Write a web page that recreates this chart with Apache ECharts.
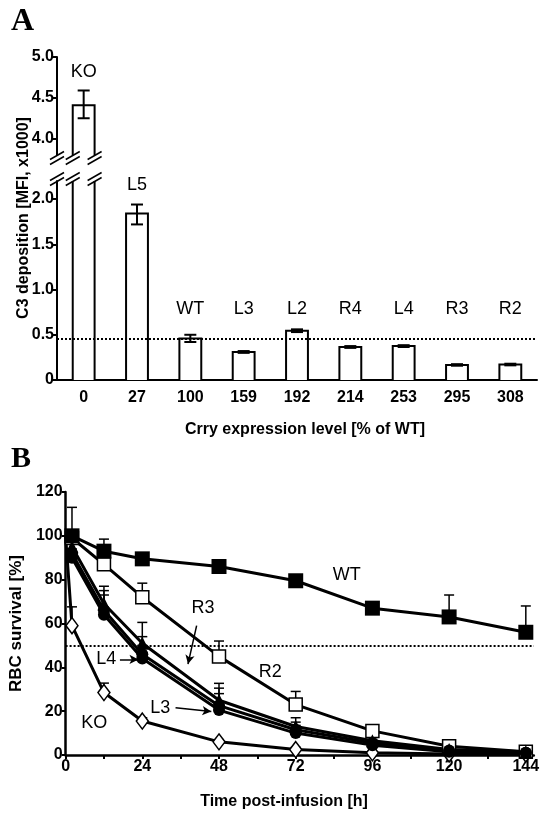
<!DOCTYPE html>
<html><head><meta charset="utf-8">
<script src="https://cdn.jsdelivr.net/npm/echarts@6/dist/echarts.min.js"></script>
<style>html,body{margin:0;padding:0;background:#fff}#c{width:542px;height:815px}</style>
</head><body><div id="c"></div>
<script>
// ---------- Panel A data ----------
const exprLevels = ['0','27','100','159','192','214','253','295','308'];
const lineNames  = ['KO','L5','WT','L3','L2','R4','L4','R3','R2'];
const c3Mean = [4.41, 1.84, 0.46, 0.31, 0.545, 0.365, 0.375, 0.165, 0.17];
const c3Low  = [4.25, 1.72, 0.42, 0.30, 0.53, 0.355, 0.365, 0.158, 0.162];
const c3High = [4.59, 1.94, 0.50, 0.32, 0.56, 0.375, 0.385, 0.175, 0.18];
const nameLabelY = [4.82, 2.16, 0.79, 0.79, 0.79, 0.79, 0.79, 0.79, 0.79];
const wtC3Level = 0.46;
const upperRange = [3.8, 5.0];
const lowerRange = [0, 2.2];
const upperTicks = [4.0, 4.5, 5.0];
const lowerTicks = [0, 0.5, 1.0, 1.5, 2.0];

// ---------- Panel B data ----------
const hours   = [2, 12, 24, 48, 72, 96, 120, 144];
const koHours = [0, 2, 12, 24, 48, 72, 96, 120, 144];
const survWT    = [100, 93, 89.5, 86, 79.5, 67, 63, 56];
const survWTErr = [113, 98.5, 91, 88, 82, 69, 73, 68];
const survR2    = [99, 87, 72, 45, 23, 11, 4, 1.5];
const survR2Err = [101, 89, 78.4, 52, 29, 13.5, 5, 2];
const survR3    = [95, 69, 51, 25, 13, 6.5, 2.5, 1.5];
const survR3Err = [97, 77, 60.5, 32.7, 17, 8, 3.5, 2];
const survL4    = [92, 66, 46, 22.5, 11.5, 5.5, 2, 1];
const survL4Err = [94, 75, 54, 30.5, 15, 7, 3, 2];
const survL3    = [90, 64, 44, 20.5, 10, 4.5, 1.5, 1];
const survL3Err = [92, 73, 50, 28, 13.5, 6, 2.5, 1.5];
const survKO    = [100, 59, 28.5, 15.5, 6, 2.5, 1, 0.5, 0.5];
const survKOErr = [100, 67.6, 32.8, 17, 7, 3.5, 1.5, 1, 1];
const halfSurvival = 50;
const timeTicks  = [0, 12, 24, 36, 48, 60, 72, 84, 96, 108, 120, 132, 144];
const timeLabels = [0, 24, 48, 72, 96, 120, 144];
const annNames = ['WT', 'R3', 'R2', 'L4', 'L3', 'KO'];
const annT     = [88, 43, 64, 12.7, 29.6, 9];
const annV     = [82, 67, 38, 43.6, 21.4, 14.6];
const arrowFrom = [[17, 43.6], [34.4, 21.6], [41, 59]];
const arrowTo   = [[22.8, 43.6], [45.6, 19.8], [38.3, 41.5]];

// ---------- helpers ----------
const SANS = '"Liberation Sans", Arial, sans-serif';
const BLACK = '#000';

function slashes(x, y) {
  const out = [];
  [-2.5, 2.5].forEach(function (d) {
    out.push({ type: 'line', shape: { x1: x - 7, y1: y + 4 + d, x2: x + 7, y2: y - 4 + d },
      style: { stroke: BLACK, lineWidth: 1.5 } });
  });
  return out;
}

function makeBarRenderer(range, cutBottom) {
  return function (params, api) {
    const cs = params.coordSys;
    const i = api.value(0), v = api.value(1);
    const w = api.size([1, 0])[0] * 0.41;
    const topPt = api.coord([i, Math.min(v, range[1])]);
    const basePt = api.coord([i, range[0]]);
    const l = topPt[0] - w / 2, r = topPt[0] + w / 2;
    const yt = topPt[1], yb = basePt[1];
    const cutTop = v > range[1];
    const kids = [{ type: 'rect', shape: { x: l, y: yt, width: w, height: yb - yt }, style: { fill: '#fff' } }];
    if (cutTop) {
      kids.push({ type: 'line', shape: { x1: l, y1: yt, x2: l, y2: yb }, style: { stroke: BLACK, lineWidth: 2 } });
      kids.push({ type: 'line', shape: { x1: r, y1: yt, x2: r, y2: yb }, style: { stroke: BLACK, lineWidth: 2 } });
      [l, r, cs.x].forEach(function (x) { slashes(x, yt - 2).forEach(function (s) { kids.push(s); }); });
    } else {
      kids.push({ type: 'polyline', shape: { points: [[l, yb], [l, yt], [r, yt], [r, yb]] },
        style: { stroke: BLACK, lineWidth: 2, fill: null } });
    }
    if (cutBottom) {
      [l, r, cs.x].forEach(function (x) { slashes(x, yb + 3).forEach(function (s) { kids.push(s); }); });
    }
    return { type: 'group', children: kids };
  };
}

function errRendererA(params, api) {
  const i = api.value(0);
  const lo = api.coord([i, api.value(1)]);
  const hi = api.coord([i, api.value(2)]);
  const hw = 6;
  return { type: 'group', children: [
    { type: 'line', shape: { x1: lo[0], y1: lo[1], x2: hi[0], y2: hi[1] }, style: { stroke: BLACK, lineWidth: 2 } },
    { type: 'line', shape: { x1: lo[0] - hw, y1: lo[1], x2: lo[0] + hw, y2: lo[1] }, style: { stroke: BLACK, lineWidth: 2 } },
    { type: 'line', shape: { x1: hi[0] - hw, y1: hi[1], x2: hi[0] + hw, y2: hi[1] }, style: { stroke: BLACK, lineWidth: 2 } }
  ] };
}

function errRendererB(params, api) {
  const t = api.value(0);
  const p0 = api.coord([t, api.value(1)]);
  const p1 = api.coord([t, api.value(2)]);
  return { type: 'group', children: [
    { type: 'line', shape: { x1: p0[0], y1: p0[1], x2: p1[0], y2: p1[1] }, style: { stroke: BLACK, lineWidth: 1.5 } },
    { type: 'line', shape: { x1: p1[0] - 5, y1: p1[1], x2: p1[0] + 5, y2: p1[1] }, style: { stroke: BLACK, lineWidth: 1.5 } }
  ] };
}

const barRows = c3Mean.map(function (v, i) { return [i, v]; });
const errRows = c3Mean.map(function (v, i) { return [i, c3Low[i], c3High[i]]; });

function errRowsB(tArr, vArr, eArr) {
  return tArr.map(function (t, i) { return [t, vArr[i], eArr[i]]; });
}
const allErrB = []
  .concat(errRowsB(hours, survWT, survWTErr))
  .concat(errRowsB(hours, survR2, survR2Err))
  .concat(errRowsB(hours, survR3, survR3Err))
  .concat(errRowsB(hours, survL4, survL4Err))
  .concat(errRowsB(hours, survL3, survL3Err))
  .concat(errRowsB(koHours, survKO, survKOErr).slice(1));

function pairs(tArr, vArr) { return tArr.map(function (t, i) { return [t, vArr[i]]; }); }

const axisLineStyle = { show: true, lineStyle: { color: BLACK, width: 2 } };
const tickLabelStyle = { color: BLACK, fontFamily: SANS, fontWeight: 'bold', fontSize: 16 };
const fmt1 = function (v) { return v === 0 ? '0' : Number(v).toFixed(1); };
const textLabel = { show: true, position: 'inside', formatter: '{b}', color: BLACK, opacity: 1,
  fontFamily: SANS, fontSize: 18, textBorderWidth: 0 };

function lineSeries(name, data, symbol, size, filled) {
  return {
    type: 'line', name: name, xAxisIndex: 2, yAxisIndex: 2, data: data,
    symbol: symbol, symbolSize: size, showSymbol: true, z: 3,
    lineStyle: { color: BLACK, width: 3 },
    itemStyle: filled ? { color: BLACK, borderColor: BLACK, borderWidth: 0, opacity: 1 }
                      : { color: '#fff', borderColor: BLACK, borderWidth: 1.5, opacity: 1 },
    emphasis: { disabled: true }, animation: false
  };
}

const koData = pairs(koHours, survKO).map(function (p, i) {
  return i === 0 ? { value: p, symbol: 'none' } : p;
});

const option = {
  animation: false,
  backgroundColor: '#fff',
  grid: [
    { left: 57, top: 57, width: 480, height: 98 },
    { left: 57, top: 181, width: 480, height: 199 },
    { left: 56, top: 492, width: 486, height: 263 }
  ],
  xAxis: [
    { gridIndex: 0, type: 'category', data: exprLevels, show: false },
    { gridIndex: 1, type: 'category', data: exprLevels, axisLine: axisLineStyle,
      axisTick: { show: false }, axisLabel: Object.assign({ margin: 10, interval: 0 }, tickLabelStyle) },
    { gridIndex: 2, type: 'value', min: 0, max: 146.5, splitLine: { show: false },
      axisLine: { show: true, onZero: false, lineStyle: { color: BLACK, width: 2.5 } },
      axisTick: { show: true, customValues: timeTicks, length: 4, lineStyle: { color: BLACK, width: 2 } },
      axisLabel: Object.assign({ customValues: timeLabels, margin: 4 }, tickLabelStyle) }
  ],
  yAxis: [
    { gridIndex: 0, type: 'value', min: upperRange[0], max: upperRange[1], splitLine: { show: false },
      axisLine: axisLineStyle,
      axisTick: { show: true, customValues: upperTicks, length: 4, lineStyle: { color: BLACK, width: 2 } },
      axisLabel: Object.assign({ customValues: upperTicks, formatter: fmt1, margin: 3 }, tickLabelStyle) },
    { gridIndex: 1, type: 'value', min: lowerRange[0], max: lowerRange[1], splitLine: { show: false },
      axisLine: axisLineStyle,
      axisTick: { show: true, customValues: lowerTicks, length: 4, lineStyle: { color: BLACK, width: 2 } },
      axisLabel: Object.assign({ customValues: lowerTicks, formatter: fmt1, margin: 3 }, tickLabelStyle) },
    { gridIndex: 2, type: 'value', min: 0, max: 120, interval: 20, splitLine: { show: false },
      axisLine: { show: true, lineStyle: { color: BLACK, width: 2.5 } },
      axisTick: { show: true, length: 4, lineStyle: { color: BLACK, width: 2 } },
      axisLabel: Object.assign({ margin: 3 }, tickLabelStyle),
      name: 'RBC survival [%]', nameLocation: 'middle', nameGap: 33,
      nameTextStyle: { color: BLACK, fontFamily: SANS, fontWeight: 'bold', fontSize: 17 } }
  ],
  series: [
    // Panel A bars
    { type: 'custom', xAxisIndex: 0, yAxisIndex: 0, renderItem: makeBarRenderer(upperRange, true),
      data: barRows.filter(function (d) { return d[1] > lowerRange[1]; }), encode: { x: 0, y: 1 }, clip: false, z: 2 },
    { type: 'custom', xAxisIndex: 1, yAxisIndex: 1, renderItem: makeBarRenderer(lowerRange, false),
      data: barRows, encode: { x: 0, y: 1 }, clip: false, z: 2 },
    { type: 'custom', xAxisIndex: 0, yAxisIndex: 0, renderItem: errRendererA,
      data: errRows.filter(function (d) { return d[2] > lowerRange[1]; }), encode: { x: 0, y: [1, 2] }, z: 3 },
    { type: 'custom', xAxisIndex: 1, yAxisIndex: 1, renderItem: errRendererA,
      data: errRows.filter(function (d) { return d[2] <= lowerRange[1]; }), encode: { x: 0, y: [1, 2] }, z: 3 },
    // Panel A name labels
    { type: 'scatter', xAxisIndex: 0, yAxisIndex: 0, symbolSize: 0, silent: true, itemStyle: { opacity: 1 },
      data: lineNames.map(function (n, i) { return { name: n, value: [i, nameLabelY[i]] }; })
        .filter(function (d, i) { return c3Mean[i] > lowerRange[1]; }),
      label: textLabel },
    { type: 'scatter', xAxisIndex: 1, yAxisIndex: 1, symbolSize: 0, silent: true, itemStyle: { opacity: 1 },
      data: lineNames.map(function (n, i) { return { name: n, value: [i, nameLabelY[i]] }; })
        .filter(function (d, i) { return c3Mean[i] <= lowerRange[1]; }),
      label: textLabel,
      markLine: { silent: true, symbol: 'none', label: { show: false },
        lineStyle: { color: BLACK, width: 2, type: [2, 2], opacity: 1 }, data: [{ yAxis: wtC3Level }] } },
    // Panel B error bars
    { type: 'custom', xAxisIndex: 2, yAxisIndex: 2, renderItem: errRendererB, data: allErrB,
      encode: { x: 0, y: [1, 2] }, z: 1 },
    // Panel B lines
    lineSeries('KO', koData, 'diamond', [12, 16], false),
    lineSeries('R2', pairs(hours, survR2), 'rect', 13, false),
    lineSeries('L3', pairs(hours, survL3), 'circle', 12, true),
    lineSeries('L4', pairs(hours, survL4), 'circle', 12, true),
    lineSeries('R3', pairs(hours, survR3), 'triangle', 13, true),
    lineSeries('WT', pairs(hours, survWT), 'rect', 15, true),
    // Panel B annotations
    { type: 'scatter', xAxisIndex: 2, yAxisIndex: 2, symbolSize: 0, silent: true, z: 5, itemStyle: { opacity: 1 },
      data: annNames.map(function (n, i) { return { name: n, value: [annT[i], annV[i]] }; }),
      label: textLabel,
      markLine: { silent: true, symbol: 'none', label: { show: false }, animation: false,
        lineStyle: { color: BLACK, width: 2, type: [2, 2], opacity: 1 },
        data: [{ yAxis: halfSurvival }].concat(arrowFrom.map(function (f, i) {
          return [{ coord: f, symbol: 'none', lineStyle: { type: 'solid', width: 1.5 } },
                  { coord: arrowTo[i], symbol: 'arrow', symbolSize: [7, 9] }];
        })) } }
  ],
  graphic: [
    { type: 'text', left: 11, top: 6, style: { text: 'A', fill: BLACK,
      font: 'bold 32px "Liberation Serif", "Times New Roman", serif' } },
    { type: 'text', left: 11, top: 444, style: { text: 'B', fill: BLACK,
      font: 'bold 30px "Liberation Serif", "Times New Roman", serif' } },
    { type: 'text', x: 24, y: 218, rotation: Math.PI / 2, style: { text: 'C3 deposition [MFI, x1000]',
      fill: BLACK, font: 'bold 16px ' + SANS, textAlign: 'center', textVerticalAlign: 'middle' } },
    { type: 'text', x: 305, y: 430, style: { text: 'Crry expression level [% of WT]',
      fill: BLACK, font: 'bold 16px ' + SANS, textAlign: 'center', textVerticalAlign: 'middle' } },
    { type: 'text', x: 284, y: 802, style: { text: 'Time post-infusion [h]',
      fill: BLACK, font: 'bold 16px ' + SANS, textAlign: 'center', textVerticalAlign: 'middle' } }
  ]
};

const chart = echarts.init(document.getElementById('c'), null, { renderer: 'canvas' });
chart.setOption(option);
</script>
</body></html>
